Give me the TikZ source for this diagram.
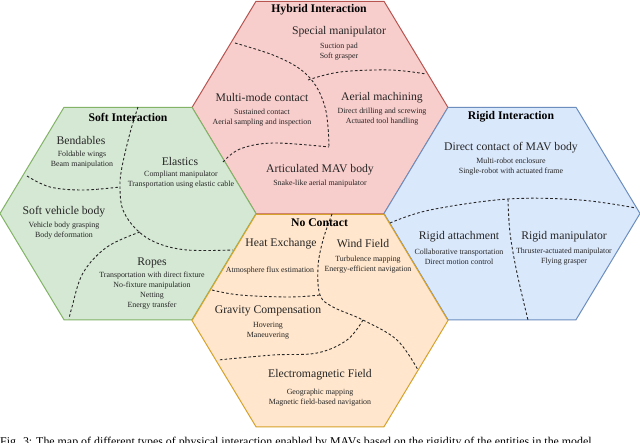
\documentclass[tikz,border=0pt]{standalone}
\usepackage{fontspec}
\setmainfont{Liberation Serif}
\definecolor{hyfill}{HTML}{F8CECC}\definecolor{hydraw}{HTML}{B85450}
\definecolor{sofill}{HTML}{D5E8D4}\definecolor{sodraw}{HTML}{82B366}
\definecolor{rifill}{HTML}{DAE8FC}\definecolor{ridraw}{HTML}{6C8EBF}
\definecolor{ncfill}{HTML}{FFE6CC}\definecolor{ncdraw}{HTML}{D6A22A}
\newcommand{\hexpath}[2]{(#1-128,#2) -- (#1-64,#2-106.25) -- (#1+64,#2-106.25) -- (#1+128,#2) -- (#1+64,#2+106.25) -- (#1-64,#2+106.25) -- cycle}
\begin{document}
\begin{tikzpicture}[x=1pt,y=-1pt,
  hexbox/.style={line width=1pt},
  divider/.style={dashed,dash pattern=on 2.6pt off 2.2pt,line width=0.9pt,black!85},
  title/.style={inner sep=0pt,font=\fontsize{11.7}{13}\selectfont\bfseries},
  head/.style={inner sep=0pt,font=\fontsize{11.7}{13}\selectfont,text=black!85},
  item/.style={inner sep=0pt,align=center,font=\fontsize{7.9}{10}\selectfont,text=black!85}]
\useasboundingbox (0,0) rectangle (640,442);
\clip (0,0) rectangle (640,442);
\fill[white] (0,0) rectangle (640,442);
% hexagons
\filldraw[hexbox,fill=hyfill,draw=hydraw] \hexpath{320}{107.5};
\filldraw[hexbox,fill=sofill,draw=sodraw] \hexpath{128}{213.5};
\filldraw[hexbox,fill=rifill,draw=ridraw] \hexpath{512}{213.5};
\filldraw[hexbox,fill=ncfill,draw=ncdraw] \hexpath{320}{320.5};
% dividers: hybrid
\draw[divider] plot[smooth,tension=0.6] coordinates {(235,43) (273,55) (300,69) (316,86) (325,107) (328,127) (329,147)};
\draw[divider] plot[smooth,tension=0.6] coordinates {(308,80) (340,72) (390,70) (426,74)};
\draw[divider] plot[smooth,tension=0.6] coordinates {(223,162) (240,149) (273,143) (329,147)};
% soft
\draw[divider] plot[smooth,tension=0.6] coordinates {(138,107) (130,133) (122,167) (120,187) (123,210) (137,230) (157,243) (187,250) (233,250)};
\draw[divider] plot[smooth,tension=0.6] coordinates {(27,176) (50,187) (83,190) (120,187)};
\draw[divider] plot[smooth,tension=0.6] coordinates {(140,232) (107,247) (83,273) (72,307) (69,319)};
% rigid
\draw[divider] plot[smooth,tension=0.6] coordinates {(390,223) (430,210) (508,199) (580,200) (636,208)};
\draw[divider] plot[smooth,tension=0.6] coordinates {(508,199) (510,233) (517,273) (528,320)};
% no contact
\draw[divider] plot[smooth,tension=0.6] coordinates {(332,214) (323,240) (318,267) (320,295) (333,307) (363,320) (397,340) (418,370)};
\draw[divider] plot[smooth,tension=0.6] coordinates {(212,290) (240,295) (290,297) (320,295)};
\draw[divider] plot[smooth,tension=0.6] coordinates {(363,320) (347,340) (317,353) (273,355) (218,360)};
% hybrid texts
\node[title] (hyT) at (319,10) {Hybrid Interaction};
\node[head] (hy1) at (339,32) {Special manipulator};
\node[item] (hy1i) at (339,52) {Suction pad\\Soft grasper};
\node[head] (hy2) at (262,97) {Multi-mode contact};
\node[item] (hy2i) at (262,117.5) {Sustained contact\\Aerial sampling and inspection};
\node[head] (hy3) at (382,98) {Aerial machining};
\node[item] (hy3i) at (382,116.5) {Direct drilling and screwing\\Actuated tool handling};
\node[head] (hy4) at (320,170) {Articulated MAV body};
\node[item] (hy4i) at (320,184) {Snake-like aerial manipulator};
% soft texts
\node[title] (soT) at (128,117) {Soft Interaction};
\node[head] (so1) at (81,140) {Bendables};
\node[item] (so1i) at (82,159.5) {Foldable wings\\Beam manipulation};
\node[head] (so2) at (180,161) {Elastics};
\node[item] (so2i) at (181,179.5) {Compliant manipulator\\Transportation using elastic cable};
\node[head] (so3) at (64,212) {Soft vehicle body};
\node[item] (so3i) at (64,230.5) {Vehicle body grasping\\Body deformation};
\node[head] (so4) at (152,263) {Ropes};
\node[item] (so4i) at (152,291) {Transportation with direct fixture\\No-fixture manipulation\\Netting\\Energy transfer};
% rigid texts
\node[title] (riT) at (511,117) {Rigid Interaction};
\node[head] (ri1) at (511,148) {Direct contact of MAV body};
\node[item] (ri1i) at (511,167) {Multi-robot enclosure\\Single-robot with actuated frame};
\node[head] (ri2) at (459,237) {Rigid attachment};
\node[item] (ri2i) at (459,257) {Collaborative transportation\\Direct motion control};
\node[head] (ri3) at (564,237) {Rigid manipulator};
\node[item] (ri3i) at (564,257) {Thruster-actuated manipulator\\Flying grasper};
% no contact texts
\node[title] (ncT) at (319.5,223) {No Contact};
\node[head] (nc1) at (281,244) {Heat Exchange};
\node[item] (nc1i) at (270,271) {Atmosphere flux estimation};
\node[head] (nc2) at (363,244) {Wind Field};
\node[item] (nc2i) at (368,265) {Turbulence mapping\\Energy-efficient navigation};
\node[head] (nc3) at (268,311) {Gravity Compensation};
\node[item] (nc3i) at (268,331) {Hovering\\Maneuvering};
\node[head] (nc4) at (320,375) {Electromagnetic Field};
\node[item] (nc4i) at (320,398) {Geographic mapping\\Magnetic field-based navigation};
% caption (cut off by the frame)
\node[anchor=base west,inner sep=0pt,font=\fontsize{11.9}{14}\selectfont] (cap) at (0,445.5) {Fig. 3: The map of different types of physical interaction enabled by MAVs based on the rigidity of the entities in the model};
\end{tikzpicture}
\end{document}
